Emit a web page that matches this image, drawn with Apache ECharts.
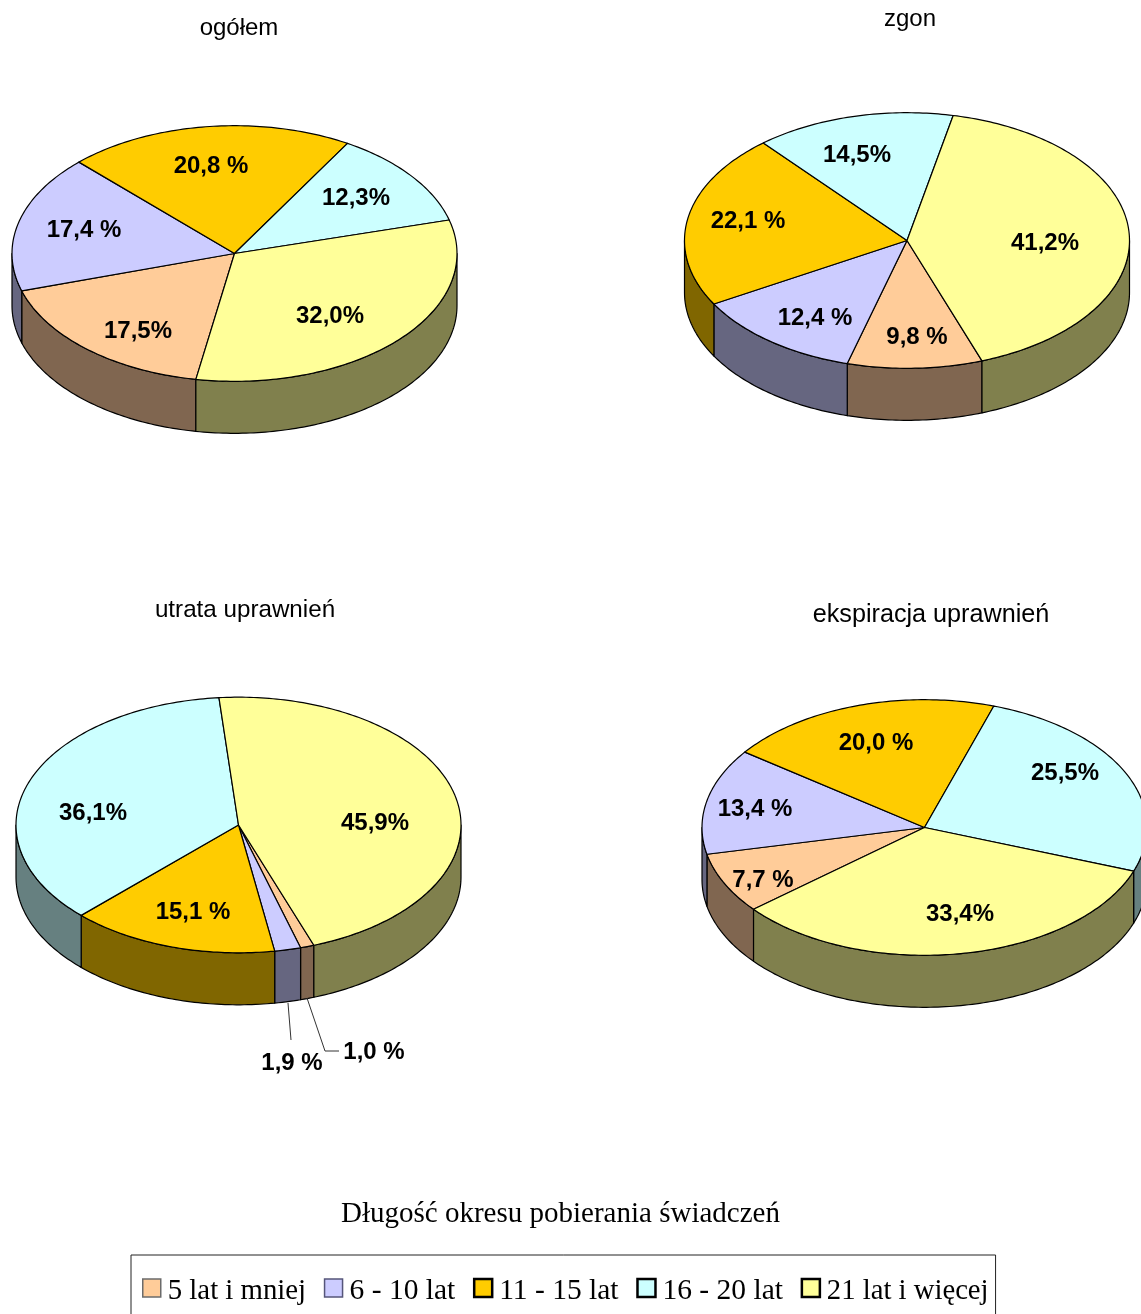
<!DOCTYPE html>
<html><head><meta charset="utf-8">
<style>html,body{margin:0;padding:0;background:#fff;overflow:hidden}#c{width:1141px;height:1314px}</style>
<script src="https://cdn.jsdelivr.net/npm/echarts@6/dist/echarts.min.js"></script>
</head><body><div id="c"></div>
<script>
// Data: one value per pie, in the order ogółem, zgon, utrata uprawnień, ekspiracja uprawnień
const pieTitles = ['ogółem', 'zgon', 'utrata uprawnień', 'ekspiracja uprawnień'];
const categories = ['5 lat i mniej', '6 - 10 lat', '11 - 15 lat', '16 - 20 lat', '21 lat i więcej'];
const years5 = [17.5, 9.8, 1.0, 7.7];
const years10 = [17.4, 12.4, 1.9, 13.4];
const years15 = [20.8, 22.1, 15.1, 20.0];
const years20 = [12.3, 14.5, 36.1, 25.5];
const years21 = [32.0, 41.2, 45.9, 33.4];
const seriesValues = [years5, years10, years15, years20, years21];
const labels5 = ['17,5%', '9,8 %', '1,0 %', '7,7 %'];
const labels10 = ['17,4 %', '12,4 %', '1,9 %', '13,4 %'];
const labels15 = ['20,8 %', '22,1 %', '15,1 %', '20,0 %'];
const labels20 = ['12,3%', '14,5%', '36,1%', '25,5%'];
const labels21 = ['32,0%', '41,2%', '45,9%', '33,4%'];
const seriesLabels = [labels5, labels10, labels15, labels20, labels21];

// Layout and styles
const colors = ['#FFCC99', '#CCCCFF', '#FFCC00', '#CCFFFF', '#FFFF99'];
const sideColors = ['#806650', '#666680', '#806600', '#668080', '#80804D'];
const pieCenters = [[234.5, 253.5], [907, 240.5], [238.5, 825], [924.5, 827.5]];
const pieStartAngles = [190, 160.3, 160.2, 230.2];
const RX = 222.5, RY = 127.8, DEPTH = 52;
const titlePos = [[239, 28], [910, 19], [245, 610], [931, 615]];
const titleSizes = [24, 24, 24.2, 25.2];
const labelPos = [
  [[138, 331], [917, 337], [374, 1052], [763, 880]],
  [[84, 230], [815, 318], [292, 1063], [755, 809]],
  [[211, 166], [748, 221], [193, 912], [876, 743]],
  [[356, 198], [857, 155], [93, 813], [1065, 773]],
  [[330, 316], [1045, 243], [375, 823], [960, 914]]
];
const leaderLines = { '0-2': [[307, 998], [325, 1051], [339, 1051]], '1-2': [[288, 1003], [291, 1040]] };

const rad = d => d * Math.PI / 180;
function ptsOnArc(c, from, to, dy) {
  const n = Math.max(2, Math.ceil(Math.abs(to - from)) + 1), pts = [];
  for (let i = 0; i < n; i++) {
    const t = rad(from + (to - from) * i / (n - 1));
    pts.push([c[0] + RX * Math.sin(t), c[1] - RY * Math.cos(t) + dy]);
  }
  return pts;
}
function sliceStart(si, pie) {
  let total = 0, before = 0;
  seriesValues.forEach((vals, i) => { total += vals[pie]; if (i < si) before += vals[pie]; });
  return { a: pieStartAngles[pie] + before / total * 360, total };
}
function makeRender(si) {
  return function (params, api) {
    const pie = api.value(0), val = api.value(1), c = pieCenters[pie];
    const s = sliceStart(si, pie);
    const a = s.a, b = a + val / s.total * 360;
    const kids = [];
    const line = { stroke: '#000', lineWidth: 1.2, lineJoin: 'round' };
    // front wall: only the arc parts on the near half of the ellipse
    [[90, 270], [450, 630], [-270, -90]].forEach(r => {
      const from = Math.max(a, r[0]), to = Math.min(b, r[1]);
      if (to > from) {
        const top = ptsOnArc(c, from, to, 0), bot = ptsOnArc(c, from, to, DEPTH).reverse();
        kids.push({ type: 'polygon', z2: 1, shape: { points: top.concat(bot) },
          style: Object.assign({ fill: sideColors[si] }, line) });
      }
    });
    kids.push({ type: 'polygon', z2: 2, shape: { points: [c].concat(ptsOnArc(c, a, b, 0)) },
      style: Object.assign({ fill: colors[si] }, line) });
    const lead = leaderLines[si + '-' + pie];
    if (lead) kids.push({ type: 'polyline', z2: 3, shape: { points: lead },
      style: { stroke: '#333', lineWidth: 1, fill: null } });
    const lp = labelPos[si][pie];
    kids.push({ type: 'text', z2: 4, x: lp[0], y: lp[1], style: {
      text: seriesLabels[si][pie], fill: '#000', align: 'center', verticalAlign: 'middle',
      font: 'bold 24px "Liberation Sans", Arial, sans-serif' } });
    return { type: 'group', children: kids };
  };
}

const chart = echarts.init(document.getElementById('c'), null, { renderer: 'canvas', width: 1141, height: 1314 });
const legendBorder = [['#6b6b6b', 1.5], ['#55557a', 1.5], ['#000', 2.5], ['#000', 2.5], ['#000', 2.5]];
const legendSizes = [28.8, 29.5, 29.5, 29.5, 28.7];
const legendFont = '"Liberation Serif", "Times New Roman", serif';
const legendRich = { g: { fontSize: 1, lineHeight: 6, height: 6 } };
legendSizes.forEach((sz, i) => {
  legendRich['t' + i] = { fontFamily: legendFont, fontSize: sz, color: '#000', padding: [0, 0, 0, 2] };
});
chart.setOption({
  animation: false,
  backgroundColor: '#fff',
  title: pieTitles.map((t, i) => ({
    text: t, left: titlePos[i][0], top: titlePos[i][1], textAlign: 'center', textVerticalAlign: 'middle', padding: 0,
    textStyle: { fontFamily: '"Liberation Sans", Arial, sans-serif', fontSize: titleSizes[i], fontWeight: 'normal', color: '#000' }
  })).concat([{
    text: 'Długość okresu pobierania świadczeń', left: 560.5, top: 1214, textAlign: 'center', textVerticalAlign: 'middle', padding: 0,
    textStyle: { fontFamily: legendFont, fontSize: 29, fontWeight: 'normal', color: '#000' }
  }]),
  legend: {
    left: 131, top: 1255, orient: 'horizontal', icon: 'rect',
    itemWidth: 18, itemHeight: 18, itemGap: 17.7,
    padding: [15, 7, 40, 11],
    borderColor: '#222', borderWidth: 1, backgroundColor: '#fff',
    selectedMode: false,
    formatter: name => '{g| }\n{t' + categories.indexOf(name) + '|' + name + '}',
    textStyle: { fontFamily: legendFont, fontSize: 29, color: '#000', rich: legendRich },
    data: categories.map((n, i) => ({ name: n, icon: 'rect',
      itemStyle: { color: colors[i], borderColor: legendBorder[i][0], borderWidth: legendBorder[i][1] } }))
  },
  series: categories.map((n, si) => ({
    type: 'custom', name: n, coordinateSystem: 'none', silent: true, clip: false,
    itemStyle: { color: colors[si] },
    data: seriesValues[si].map((v, pie) => [pie, v]),
    dimensions: ['pie', 'share'],
    renderItem: makeRender(si)
  }))
});
</script></body></html>
